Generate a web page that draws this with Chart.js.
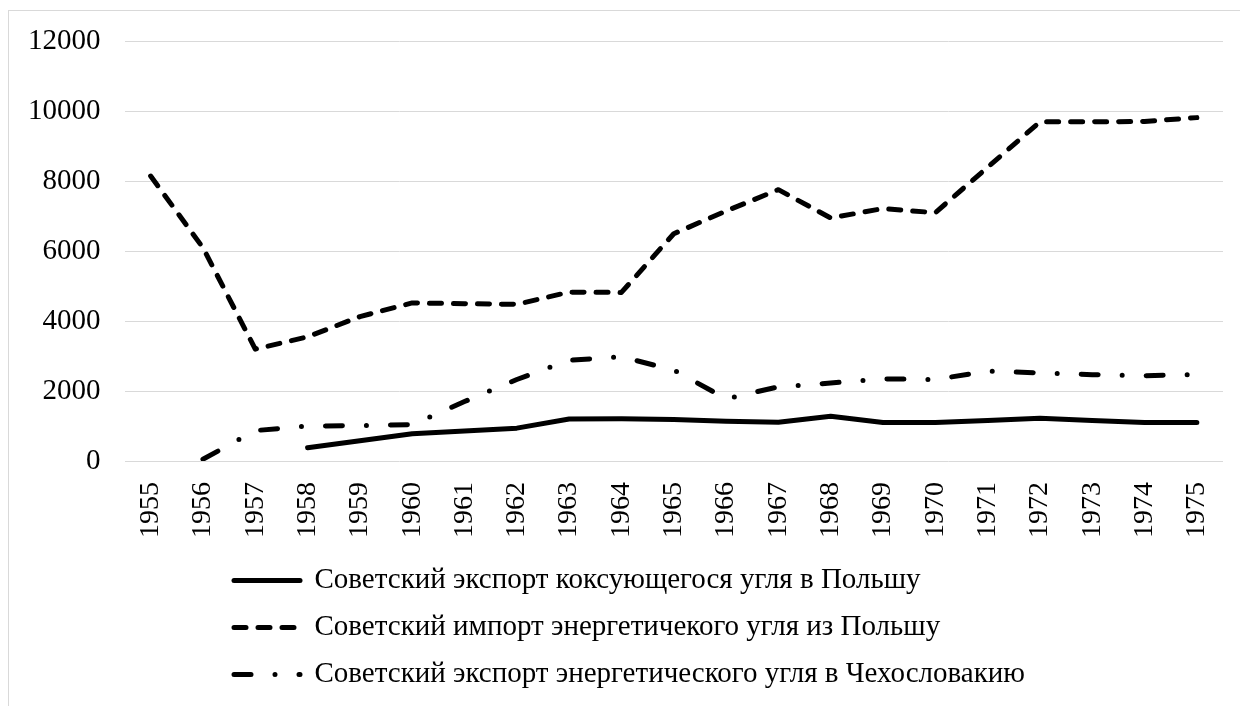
<!DOCTYPE html>
<html>
<head>
<meta charset="utf-8">
<script src="https://cdn.jsdelivr.net/npm/chart.js@4"></script>
<style>
    body { margin: 0; background: #fff; }
    #wrap { position: relative; width: 1240px; height: 706px; overflow: hidden; }
    #frame {
        position: absolute; left: 8px; top: 10px; width: 1300px; height: 800px;
        border: 1px solid #d9d9d9; pointer-events: none;
    }
</style>
</head>
<body>
<div id="wrap">
    <canvas id="chart" width="1240" height="706"></canvas>
    <div id="frame"></div>
</div>
<script>
/* ------------------ DATA ------------------ */
const years = ["1955", "1956", "1957", "1958", "1959", "1960", "1961", "1962", "1963", "1964",
    "1965", "1966", "1967", "1968", "1969", "1970", "1971", "1972", "1973", "1974", "1975"];

const cokeExportPoland = [null, null, null, 380, 580, 780, 860, 940, 1200, 1210,
    1190, 1140, 1110, 1280, 1100, 1100, 1160, 1220, 1160, 1100, 1100];

const steamImportPoland = [8150, 6100, 3200, 3550, 4130, 4520, 4500, 4480, 4830, 4820,
    6500, 7150, 7760, 6950, 7220, 7100, 8400, 9700, 9700, 9710, 9820];

const steamExportCzech = [null, 50, 870, 1000, 1010, 1040, 1700, 2330, 2880, 2980,
    2600, 1780, 2120, 2230, 2350, 2330, 2570, 2520, 2470, 2440, 2470];

const seriesNames = [
    "Советский экспорт коксующегося угля в Польшу",
    "Советский импорт энергетичекого угля из Польшу",
    "Советский экспорт энергетического угля в Чехословакию"
];

const yTicks = { min: 0, max: 12000, step: 2000 };

/* ------------------ STYLE ------------------ */
const font = "'Liberation Serif', 'Times New Roman', serif";

function lineSet(label, data, dash) {
    return {
        label: label,
        data: data,
        borderColor: "#000",
        backgroundColor: "#000",
        borderWidth: 5,
        borderDash: dash,
        borderCapStyle: "round",
        borderJoinStyle: "round",
        pointRadius: 0,
        pointHoverRadius: 0,
        tension: 0,
        fill: false
    };
}

// legend rows start at the same x, like the original
const legendShift = {
    id: "legendShift",
    afterLayout(chart) {
        if (chart.legend) {
            chart.legend.left = 216;
            chart.legend.top -= 7;
        }
    }
};

new Chart(document.getElementById("chart"), {
    type: "line",
    data: {
        labels: years,
        datasets: [
            lineSet(seriesNames[0], cokeExportPoland, []),
            lineSet(seriesNames[1], steamImportPoland, [12, 12]),
            lineSet(seriesNames[2], steamExportCzech, [17, 24, 0, 24])
        ]
    },
    options: {
        responsive: false,
        animation: false,
        layout: { padding: { top: 40, left: 4, right: 17, bottom: 0 } },
        plugins: {
            tooltip: { enabled: false },
            legend: {
                position: "bottom",
                align: "start",
                maxHeight: 160,
                labels: {
                    usePointStyle: true,
                    pointStyle: "line",
                    pointStyleWidth: 66,
                    padding: 18,
                    color: "#000",
                    font: { family: font, size: 29 },
                    generateLabels(chart) {
                        const items = Chart.defaults.plugins.legend.labels.generateLabels(chart);
                        items.forEach(item => {
                            const ds = chart.data.datasets[item.datasetIndex];
                            item.lineDash = ds.borderDash;
                            item.lineCap = "round";
                            item.lineWidth = ds.borderWidth;
                        });
                        return items;
                    }
                }
            }
        },
        scales: {
            x: {
                offset: true,
                grid: { display: false, drawTicks: false },
                border: { display: false },
                afterFit(scale) {
                    scale.height = 94;
                    scale.paddingLeft = 0;
                    scale.paddingRight = 0;
                },
                ticks: {
                    autoSkip: false,
                    minRotation: 90,
                    maxRotation: 90,
                    padding: 21,
                    color: "#000",
                    font: { family: font, size: 28 }
                }
            },
            y: {
                min: yTicks.min,
                max: yTicks.max,
                grid: { color: "#d9d9d9", lineWidth: 1, drawTicks: false },
                border: { display: false },
                ticks: {
                    stepSize: yTicks.step,
                    padding: 24,
                    color: "#000",
                    font: { family: font, size: 29 },
                    callback: v => String(v)
                }
            }
        }
    },
    plugins: [legendShift]
});
</script>
</body>
</html>
